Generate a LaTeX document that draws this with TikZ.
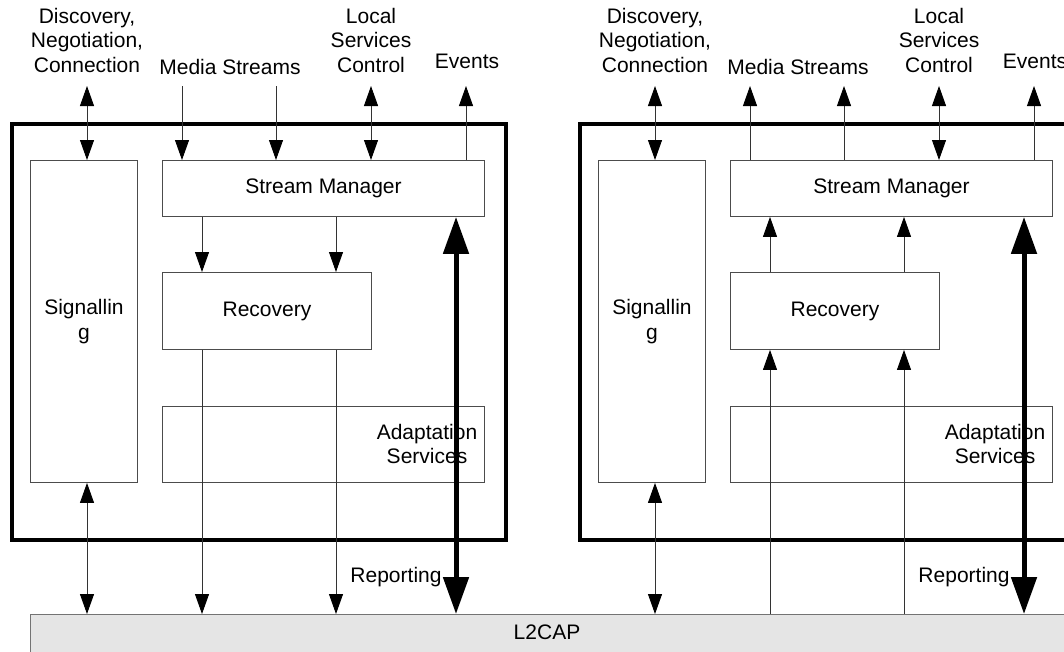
\documentclass[tikz,border=0pt]{standalone}
\usepackage{fontspec}
\setmainfont{Liberation Sans}
\usetikzlibrary{arrows.meta}
\begin{document}
\begin{tikzpicture}[x=1pt,y=-1pt,
 box/.style={draw=black!70, line width=0.9pt, inner sep=0, anchor=north west, font=\fontsize{21}{24.5}\selectfont, align=center},
 outer/.style={draw=black, line width=3.5pt, inner sep=0, anchor=north west},
 lab/.style={align=center, inner sep=0, font=\fontsize{21}{24.5}\selectfont},
 ln/.style={draw=black!80, line width=0.9pt},
 tip/.style={ln, -{Triangle[length=20pt,width=14pt,color=black]}},
 dbl/.style={ln, {Triangle[length=20pt,width=14pt,color=black]}-{Triangle[length=20pt,width=14pt,color=black]}},
 big/.style={draw=black, line width=5pt, {Triangle[length=37pt,width=25pt]}-{Triangle[length=37pt,width=25pt]}}
]
\useasboundingbox (0,0) rectangle (1064,651);
\begin{scope}
\clip (0,0) rectangle (1064,651);
% L2CAP
\node[box, draw=black!55, fill=black!10, minimum width=1050pt, minimum height=50pt] (l2) at (30,614) {};
\node[lab] (l2t) at (547,632) {L2CAP};

% ---------- left side ----------
\node[outer, minimum width=494pt, minimum height=416pt] (Lout) at (10,122) {};
\node[box, minimum width=107pt, minimum height=322pt] (Lsig) at (30,160) {Signallin\\g};
\node[box, minimum width=322pt, minimum height=56pt] (Lsm) at (162,160) {Stream Manager};
\node[box, minimum width=209pt, minimum height=77pt] (Lrec) at (162,272) {Recovery};
\node[box, minimum width=322pt, minimum height=76pt] (Lad) at (162,406) {};
\node[lab] (Ladt) at (427,444) {Adaptation\\Services};
\node[lab] (Lrep) at (396,577) {Reporting};

\node[lab] (Ldisc) at (87,40) {Discovery,\\Negotiation,\\Connection};
\node[lab] (Lmed) at (230,67) {Media Streams};
\node[lab] (Lloc) at (371,40) {Local\\Services\\Control};
\node[lab] (Lev) at (467,61) {Events};

\coordinate (Ld) at (87,86);
\coordinate (Lm1) at (182,86);
\coordinate (Lm2) at (276,86);
\coordinate (Ll) at (371,86);
\coordinate (Le) at (466,86);
\coordinate (Lr1) at (202,300);
\coordinate (Lr2) at (336,300);
\coordinate (Lth) at (456,300);

\draw[dbl] (Ld) -- (Lsig.north -| Ld);
\draw[tip] (Lm1) -- (Lsm.north -| Lm1);
\draw[tip] (Lm2) -- (Lsm.north -| Lm2);
\draw[dbl] (Ll) -- (Lsm.north -| Ll);
\draw[tip] (Lsm.north -| Le) -- (Le);
\draw[tip] (Lsm.south -| Lr1) -- (Lrec.north -| Lr1);
\draw[tip] (Lsm.south -| Lr2) -- (Lrec.north -| Lr2);
\draw[tip] (Lrec.south -| Lr1) -- (l2.north -| Lr1);
\draw[tip] (Lrec.south -| Lr2) -- (l2.north -| Lr2);
\draw[dbl] (Lsig.south -| Ld) -- (l2.north -| Ld);
\draw[big] (l2.north -| Lth) -- (Lsm.south -| Lth);

% ---------- right side ----------
\node[outer, minimum width=494pt, minimum height=416pt] (Rout) at (578,122) {};
\node[box, minimum width=107pt, minimum height=322pt] (Rsig) at (598,160) {Signallin\\g};
\node[box, minimum width=322pt, minimum height=56pt] (Rsm) at (730,160) {Stream Manager};
\node[box, minimum width=209pt, minimum height=77pt] (Rrec) at (730,272) {Recovery};
\node[box, minimum width=322pt, minimum height=76pt] (Rad) at (730,406) {};
\node[lab] (Radt) at (995,444) {Adaptation\\Services};
\node[lab] (Rrep) at (964,577) {Reporting};

\node[lab] (Rdisc) at (655,40) {Discovery,\\Negotiation,\\Connection};
\node[lab] (Rmed) at (798,67) {Media Streams};
\node[lab] (Rloc) at (939,40) {Local\\Services\\Control};
\node[lab] (Rev) at (1035,61) {Events};

\coordinate (Rd) at (655,86);
\coordinate (Rm1) at (750,86);
\coordinate (Rm2) at (844,86);
\coordinate (Rl) at (939,86);
\coordinate (Re) at (1034,86);
\coordinate (Rr1) at (770,300);
\coordinate (Rr2) at (904,300);
\coordinate (Rth) at (1024,300);

\draw[dbl] (Rd) -- (Rsig.north -| Rd);
\draw[tip] (Rsm.north -| Rm1) -- (Rm1);
\draw[tip] (Rsm.north -| Rm2) -- (Rm2);
\draw[dbl] (Rl) -- (Rsm.north -| Rl);
\draw[tip] (Rsm.north -| Re) -- (Re);
\draw[tip] (Rrec.north -| Rr1) -- (Rsm.south -| Rr1);
\draw[tip] (Rrec.north -| Rr2) -- (Rsm.south -| Rr2);
\draw[tip] (l2.north -| Rr1) -- (Rrec.south -| Rr1);
\draw[tip] (l2.north -| Rr2) -- (Rrec.south -| Rr2);
\draw[dbl] (Rsig.south -| Rd) -- (l2.north -| Rd);
\draw[big] (l2.north -| Rth) -- (Rsm.south -| Rth);
\end{scope}
\end{tikzpicture}
\end{document}
